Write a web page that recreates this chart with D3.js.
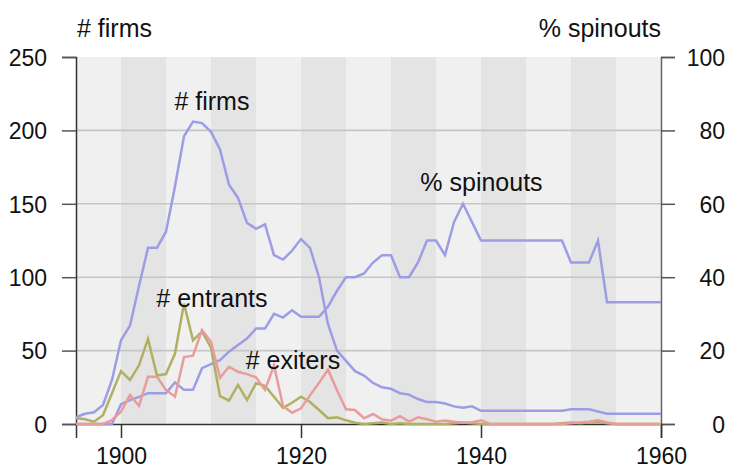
<!DOCTYPE html>
<html>
<head>
<meta charset="utf-8">
<script src="https://cdn.jsdelivr.net/npm/d3@7"></script>
<style>
  html, body { margin: 0; padding: 0; background: #ffffff; }
  svg { display: block; }
  text { font-family: "Liberation Sans", Arial, sans-serif; fill: #111; }
</style>
</head>
<body>
<svg id="chart" width="730" height="470"></svg>
<script>
const years = d3.range(1895, 1961);

const firms = [
  4.6, 7, 8, 13, 30, 57, 67, 94, 120, 120,
  131, 162, 196, 206, 205, 199, 187, 163, 154, 137,
  133, 136, 115, 112, 118, 126, 120, 100, 68, 50,
  43, 36, 33, 28, 25, 24, 21, 20, 17, 15,
  15, 14, 12, 11, 12, 9,
  9, 9, 9, 9, 9, 9, 9, 9, 9,
  10, 10, 10, 8.5,
  7, 7, 7, 7, 7, 7, 7
];

const spinouts = [
  0, 0, 0, 0, 0, 5.4, 6.5, 7.4, 8.4, 8.4,
  8.4, 11.3, 9.3, 9.3, 15.2, 16.3, 17.4, 19.7, 21.5, 23.3,
  26, 26, 30, 29, 31, 29.2, 29.2, 29.2, 32, 36.3,
  40, 40, 41, 44, 46, 46, 40, 40, 44, 50,
  50, 46, 55, 60, 55, 50,
  50, 50, 50, 50, 50, 50, 50, 50, 50,
  44, 44, 44, 50,
  33.2, 33.2, 33.2, 33.2, 33.2, 33.2, 33.2
];

const entrants = [
  3.9, 3.2, 1.6, 6, 21, 36, 30, 40, 58, 33,
  34, 48, 82, 57, 63, 52, 19, 16, 26.6, 16.3,
  27.7, 26, 18.6, 11, 14.5, 18.6, 15, 9.5, 3.9, 4.5,
  2.5, 0.9, 0, 0.5, 1, 0, 0.5, 0, 0, 0,
  0, 0, 0.5, 1, 0.5, 0,
  0, 0, 0, 0, 0, 0, 0, 0, 0.5,
  1, 0.5, 1, 1.5,
  0.5, 0, 0, 0, 0, 0, 0
];

const exiters = [
  0, 0, 0, 0, 2.7, 8.4, 19.8, 12.3, 32.2, 32.2,
  23.2, 18.6, 45.6, 46.5, 64, 56, 31.5, 39, 35.6, 34,
  31.8, 23.2, 40, 12.3, 7.7, 10.7, 19.5, 28, 37, 23,
  10, 9.5, 3.9, 6.8, 3.2, 2.3, 5.4, 1.6, 4.5, 3.2,
  1.6, 2.3, 1.6, 0.8, 1.2, 2.5,
  0, 0, 0, 0, 0, 0, 0, 0, 0,
  0.5, 1, 1.5, 2.5,
  1, 0, 0, 0, 0, 0, 0
];

const leftTicks = [0, 50, 100, 150, 200, 250];
const rightTicks = [0, 20, 40, 60, 80, 100];
const xTicks = [1900, 1920, 1940, 1960];
const bandEdges = d3.range(1895, 1960, 5);

const labels = [
  { text: "# firms",    year: 1910.1, value: 220 },
  { text: "# entrants", year: 1910.1, value: 86 },
  { text: "# exiters",  year: 1919.1, value: 43.5 },
  { text: "% spinouts", year: 1940.05, value: 165 }
];

const blue = "#9d9de6", olive = "#b0b062", pink = "#e89c9c";

const svg = d3.select("#chart");
const L = 76, R = 661, T = 57, B = 424;

const x = d3.scaleLinear().domain([1895, 1960]).range([L, R]);
const yL = d3.scaleLinear().domain([0, 250]).range([B, T]);
const yR = d3.scaleLinear().domain([0, 100]).range([B, T]);

// background bands
svg.append("g").selectAll("rect").data(bandEdges).join("rect")
  .attr("x", d => x(d))
  .attr("y", T)
  .attr("width", d => x(d + 5) - x(d))
  .attr("height", B - T)
  .attr("fill", (d, i) => i % 2 === 0 ? "#f0f0f0" : "#e4e4e4");

// horizontal gridlines
svg.append("g").selectAll("line").data(leftTicks.filter(v => v > 0 && v < 250)).join("line")
  .attr("x1", L).attr("x2", R)
  .attr("y1", d => yL(d)).attr("y2", d => yL(d))
  .attr("stroke", "#c6c6c6").attr("stroke-width", 1.6);

const fmt = d3.format("d");

// left axis
const gL = svg.append("g").attr("transform", `translate(${L},0)`)
  .call(d3.axisLeft(yL).tickValues(leftTicks).tickSize(14).tickPadding(15).tickFormat(fmt));
gL.select(".domain").attr("stroke", "#333").attr("stroke-width", 1.5);
gL.selectAll(".tick line").attr("stroke", "#555").attr("stroke-width", 1.5);
gL.selectAll(".tick text").style("font-size", "23px").attr("fill", "#111").attr("dy", "0.36em");

// right axis
const gR = svg.append("g").attr("transform", `translate(${R},0)`)
  .call(d3.axisRight(yR).tickValues(rightTicks).tickSize(14).tickPadding(0).tickFormat(fmt));
gR.select(".domain").attr("stroke", "#666").attr("stroke-width", 1.5);
gR.selectAll(".tick line").attr("stroke", "#555").attr("stroke-width", 1.5);
gR.selectAll(".tick text").style("font-size", "23px").attr("fill", "#111")
  .attr("text-anchor", "end").attr("x", 725 - R).attr("dy", "0.36em");

// bottom axis
const gB = svg.append("g").attr("transform", `translate(0,${B})`)
  .call(d3.axisBottom(x).tickValues(xTicks).tickSize(14).tickPadding(10).tickFormat(fmt));
gB.select(".domain").attr("stroke", "#333").attr("stroke-width", 1.5);
gB.selectAll(".tick line").attr("stroke", "#333").attr("stroke-width", 1.5);
gB.selectAll(".tick text").style("font-size", "23px").attr("fill", "#111");

// lines
const lineL = d3.line().x((d, i) => x(years[i])).y(d => yL(d));
const lineR = d3.line().x((d, i) => x(years[i])).y(d => yR(d));

const series = [
  { data: firms, gen: lineL, color: blue },
  { data: spinouts, gen: lineR, color: blue },
  { data: entrants, gen: lineL, color: olive },
  { data: exiters, gen: lineL, color: pink }
];
svg.append("g").selectAll("path").data(series).join("path")
  .attr("d", s => s.gen(s.data))
  .attr("fill", "none")
  .attr("stroke", s => s.color)
  .attr("stroke-width", 2.5)
  .attr("stroke-linejoin", "miter");

// in-plot labels
svg.append("g").selectAll("text").data(labels).join("text")
  .attr("x", d => x(d.year))
  .attr("y", d => yL(d.value))
  .attr("text-anchor", "middle")
  .attr("dy", "0.36em")
  .style("font-size", "25px")
  .text(d => d.text);

// axis titles
svg.append("text").attr("x", 77).attr("y", 28).attr("dy", "0.36em")
  .style("font-size", "25px").text("# firms");
svg.append("text").attr("x", 661).attr("y", 28).attr("dy", "0.36em")
  .attr("text-anchor", "end").style("font-size", "25px").text("% spinouts");
</script>
</body>
</html>
